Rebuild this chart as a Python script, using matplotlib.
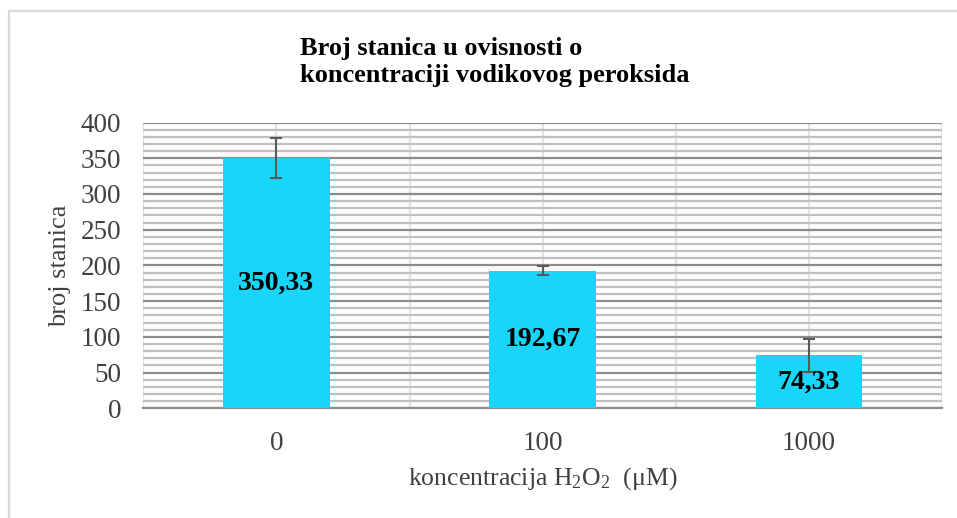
import matplotlib.pyplot as plt
from matplotlib.patches import Rectangle
from matplotlib.ticker import MultipleLocator

# podaci s grafa
kategorije = ['0', '100', '1000']
vrijednosti = [350.33, 192.67, 74.33]
greske = [28.3, 6.7, 23.0]
oznake = ['350,33', '192,67', '74,33']

plt.rcParams['font.family'] = ['Liberation Serif', 'DejaVu Serif']
plt.rcParams['mathtext.fontset'] = 'custom'
plt.rcParams['mathtext.rm'] = 'Liberation Serif'
plt.rcParams['mathtext.it'] = 'Liberation Serif:italic'

fig = plt.figure(figsize=(9.57, 5.18), dpi=100)
ax = fig.add_axes([0.1497, 0.2118, 0.8346, 0.5517])

# okvir oko cijelog grafa (vidi se samo lijevo i gore)
fig.patches.append(Rectangle((9 / 957, -0.1), 1.2, 1 - 11 / 518 + 0.1,
                             transform=fig.transFigure, fill=False,
                             edgecolor='#d9d9d9', linewidth=1.6))

x = list(range(len(kategorije)))
ax.bar(x, vrijednosti, width=0.4, color='#17d6fa', zorder=3)
ax.errorbar(x, vrijednosti, yerr=greske, fmt='none', ecolor='#595959',
            elinewidth=1.5, capsize=4.5, capthick=1.5, zorder=4)

for xi, v, t in zip(x, vrijednosti, oznake):
    ax.text(xi, v / 2, t, ha='center', va='center', fontsize=20,
            fontweight='bold', color='black', zorder=5)

ax.set_xlim(-0.5, 2.5)
ax.set_ylim(0, 400)
ax.set_xticks(x)
ax.set_xticklabels(kategorije)
ax.yaxis.set_major_locator(MultipleLocator(50))
ax.yaxis.set_minor_locator(MultipleLocator(10))
ax.xaxis.set_minor_locator(MultipleLocator(0.5))

ax.grid(which='minor', axis='y', color='#bfbfbf', linewidth=1.6, zorder=0)
ax.grid(which='major', axis='y', color='#8c8c8c', linewidth=1.6, zorder=1)
ax.grid(which='both', axis='x', color='#e3e3e3', linewidth=1.6, zorder=0)

for s in ['top', 'right', 'left']:
    ax.spines[s].set_visible(False)
ax.spines['bottom'].set_color('#8c8c8c')
ax.spines['bottom'].set_linewidth(1.6)

ax.tick_params(axis='both', which='both', length=0, colors='#404040')
ax.tick_params(axis='y', labelsize=19.5, pad=16)
ax.tick_params(axis='x', labelsize=19.5, pad=16)

ax.set_ylabel('broj stanica', fontsize=19, color='#404040', labelpad=7)
ax.set_xlabel(r'koncentracija H$_\mathrm{2}$O$_\mathrm{2}$  (μM)',
              fontsize=18.5, color='#404040', va='baseline')
ax.xaxis.set_label_coords(0.5, -0.268)

fig.text(300 / 957, 1 - 82 / 518,
         'Broj stanica u ovisnosti o\nkoncentraciji vodikovog peroksida',
         ha='left', va='baseline', fontsize=19, fontweight='bold',
         linespacing=1.2)

fig.savefig('out.png', dpi=100)
